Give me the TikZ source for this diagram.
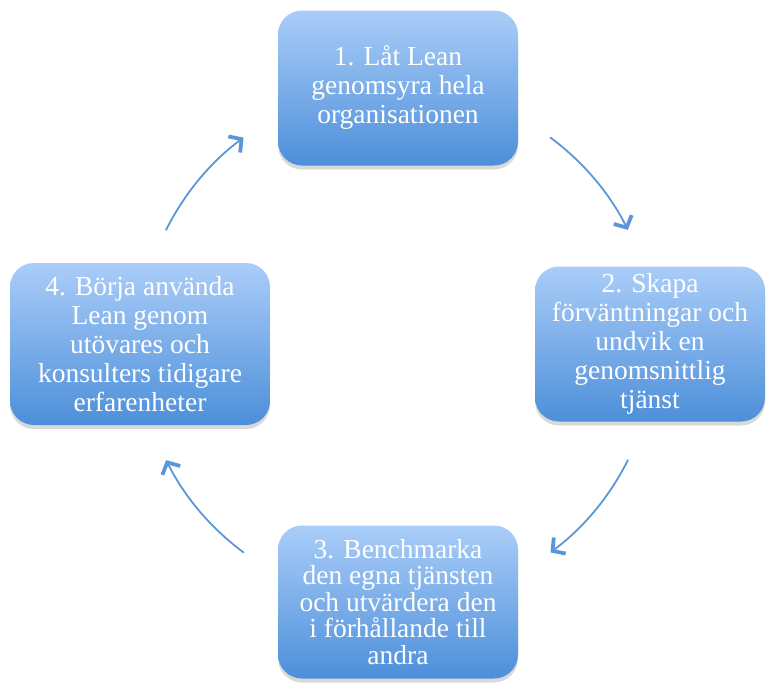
\documentclass[tikz,border=0pt]{standalone}
\usepackage{fontspec}
\setmainfont{Liberation Serif}
\usetikzlibrary{arrows.meta,shadows,calc}
\definecolor{boxtop}{HTML}{AACDF8}
\definecolor{boxbot}{HTML}{4D8FDA}
\definecolor{arrowc}{HTML}{5B97D6}
\tikzset{
  stepbox/.style={draw=none, rounded corners=24pt, top color=boxtop, bottom color=boxbot,
    text=white, align=center, font=\fontsize{27.5}{29}\selectfont, inner sep=0pt,
    drop shadow={opacity=0.3, shadow xshift=0pt, shadow yshift=-4pt}},
  cyc/.style={draw=arrowc, line width=1.8pt, line cap=round,
    -{Straight Barb[length=9pt,width=20pt,line width=3.8pt]}}
}
\begin{document}
\begin{tikzpicture}[x=1pt,y=-1pt]
\useasboundingbox (0,0) rectangle (767,683);
\node[stepbox, minimum width=240pt, minimum height=155pt] (b1) at (398,88) {1. Låt Lean\\genomsyra hela\\organisationen};
\node[stepbox, minimum width=230pt, minimum height=155pt] (b2) at (650,344) {2. Skapa\\förväntningar och\\undvik en\\genomsnittlig\\tjänst};
\node[stepbox, minimum width=240pt, minimum height=153pt, font=\fontsize{27.5}{26.5}\selectfont] (b3) at (398,602) {3. Benchmarka\\den egna tjänsten\\och utvärdera den\\i förhållande till\\andra};
\node[stepbox, minimum width=260pt, minimum height=162pt] (b4) at (140,344) {4. Börja använda\\Lean genom\\utövares och\\konsulters tidigare\\erfarenheter};
\coordinate (c) at (397,345);
\coordinate (a1) at ($(c)+(53.5:258pt)$);
\coordinate (a2) at ($(c)+(-26.5:258pt)$);
\coordinate (a3) at ($(c)+(-126.5:258pt)$);
\coordinate (a4) at ($(c)+(153.5:258pt)$);
\draw[cyc] (a1) arc[start angle=53.5, end angle=26.5, radius=258pt];
\draw[cyc] (a2) arc[start angle=-26.5, end angle=-53.5, radius=258pt];
\draw[cyc] (a3) arc[start angle=-126.5, end angle=-153.5, radius=258pt];
\draw[cyc] (a4) arc[start angle=153.5, end angle=126.5, radius=258pt];
\end{tikzpicture}
\end{document}
